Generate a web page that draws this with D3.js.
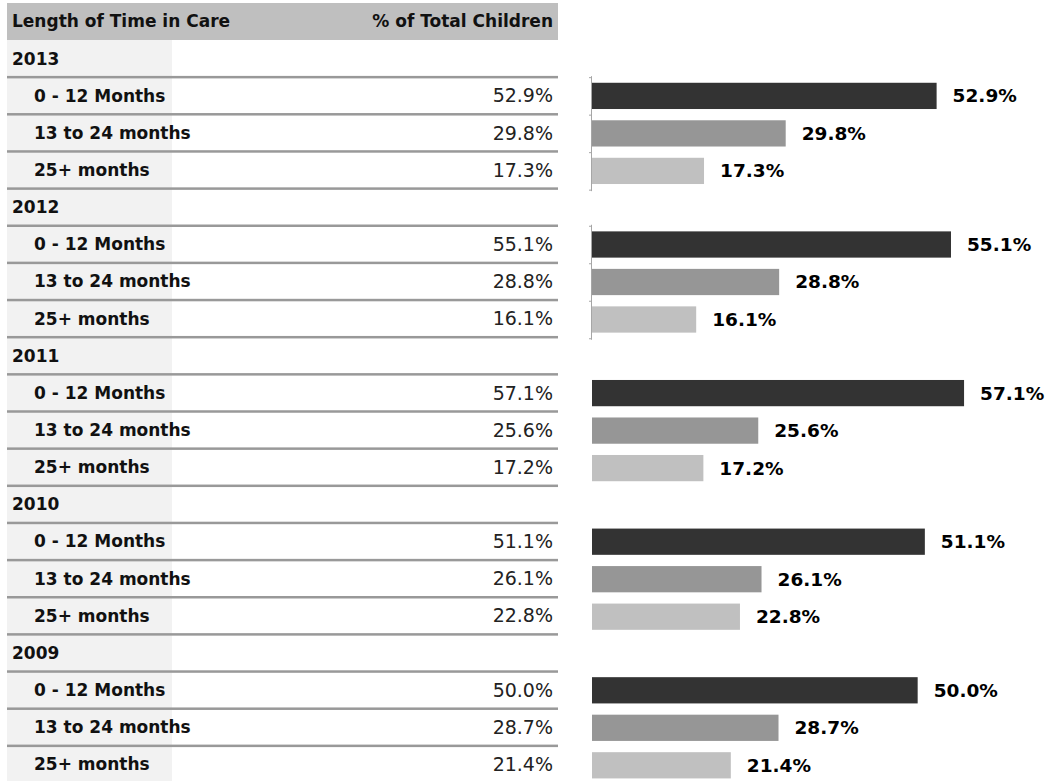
<!DOCTYPE html>
<html>
<head>
<meta charset="utf-8">
<script src="https://cdn.jsdelivr.net/npm/d3@7"></script>
<style>
  html, body { margin: 0; padding: 0; background: #fff; }
  svg { display: block; }
  text { font-family: "DejaVu Sans", sans-serif; }
</style>
</head>
<body>
<svg id="chart" width="1048" height="781"></svg>
<script>
// ---- data ----
const headers = ["Length of Time in Care", "% of Total Children"];
const years = ["2013", "2012", "2011", "2010", "2009"];
const categories = ["0 - 12 Months", "13 to 24 months", "25+ months"];
const values2013 = [52.9, 29.8, 17.3];
const values2012 = [55.1, 28.8, 16.1];
const values2011 = [57.1, 25.6, 17.2];
const values2010 = [51.1, 26.1, 22.8];
const values2009 = [50.0, 28.7, 21.4];
const seriesValues = [values2013, values2012, values2011, values2010, values2009];

// ---- layout ----
const svg = d3.select("#chart");
const W = 1048, H = 781;
const tableX0 = 7, tableX1 = 558, headerTop = 3, headerBottom = 40;
const rowH = 37.15;
const labelColRight = 172;
const barColors = ["#333333", "#969696", "#c0c0c0"];
const fmt = v => d3.format(".1f")(v) + "%";
const boldSize = 17;

// rows: year row + category rows
const rows = [];
years.forEach((y, g) => {
  rows.push({ type: "year", label: y, g });
  categories.forEach((c, i) => rows.push({ type: "cat", label: c, value: seriesValues[g][i], g, i }));
});
const rowY = i => headerBottom + rowH * i;

// backgrounds
svg.append("rect").attr("x", tableX0).attr("y", headerTop).attr("width", tableX1 - tableX0)
  .attr("height", headerBottom - headerTop).attr("fill", "#bfbfbf");
svg.append("rect").attr("x", tableX0).attr("y", headerBottom).attr("width", labelColRight - tableX0)
  .attr("height", H - headerBottom).attr("fill", "#f2f2f2");

// header text
svg.append("text").attr("x", 12).attr("y", (headerTop + headerBottom) / 2).attr("dy", "0.35em")
  .attr("font-size", boldSize).attr("font-weight", "bold").attr("fill", "#111").text(headers[0]);
svg.append("text").attr("x", 553).attr("y", (headerTop + headerBottom) / 2).attr("dy", "0.35em")
  .attr("text-anchor", "end").attr("font-size", boldSize).attr("font-weight", "bold").attr("fill", "#111").text(headers[1]);

// row separators
rows.forEach((r, i) => {
  if (i < rows.length - 1) {
    svg.append("rect").attr("x", tableX0).attr("y", rowY(i + 1) - 1.25).attr("width", tableX1 - tableX0)
      .attr("height", 2.5).attr("fill", "#999999");
  }
});

// row text
const rowG = svg.append("g");
rows.forEach((r, i) => {
  const cy = rowY(i) + rowH / 2;
  rowG.append("text").attr("x", r.type === "year" ? 12 : 34).attr("y", cy).attr("dy", "0.35em")
    .attr("font-size", boldSize).attr("font-weight", "bold").attr("fill", "#111").text(r.label);
  if (r.type === "cat") {
    rowG.append("text").attr("x", 553).attr("y", cy).attr("dy", "0.35em").attr("text-anchor", "end")
      .attr("font-size", 19).attr("font-weight", "normal").attr("fill", "#222").text(fmt(r.value));
  }
});

// bars
const x = d3.scaleLinear().domain([0, 60]).range([591, 983]);
const showAxis = [true, true, false, false, false];
years.forEach((yr, g) => {
  const top = rowY(4 * g + 1);
  const y = d3.scaleBand().domain(categories).range([top, top + 112.5]).paddingInner(0.3).paddingOuter(0.15);
  const gg = svg.append("g");
  if (showAxis[g]) {
    gg.append("line").attr("x1", x(0) + 0.5).attr("x2", x(0) + 0.5).attr("y1", top - 1).attr("y2", top + 114)
      .attr("stroke", "#a6a6a6").attr("stroke-width", 1);
    const bounds = [0, 1, 2, 3].map(k => top + y.step() * k);
    gg.selectAll("line.tick").data(bounds).join("line").attr("class", "tick")
      .attr("x1", x(0) - 2).attr("x2", x(0) + 0.5).attr("y1", d => d + 0.5).attr("y2", d => d + 0.5)
      .attr("stroke", "#a6a6a6").attr("stroke-width", 1);
  }
  const data = categories.map((c, i) => ({ c, v: seriesValues[g][i], i }));
  gg.selectAll("rect.bar").data(data).join("rect").attr("class", "bar")
    .attr("x", x(0) + 1).attr("y", d => y(d.c)).attr("width", d => x(d.v) - x(0) - 1)
    .attr("height", y.bandwidth()).attr("fill", d => barColors[d.i]);
  gg.selectAll("text.lbl").data(data).join("text").attr("class", "lbl")
    .attr("x", d => x(d.v) + 16).attr("y", d => y(d.c) + y.bandwidth() / 2).attr("dy", "0.35em")
    .attr("font-size", 18.5).attr("font-weight", "bold").attr("fill", "#000").text(d => fmt(d.v));
});
</script>
</body>
</html>
